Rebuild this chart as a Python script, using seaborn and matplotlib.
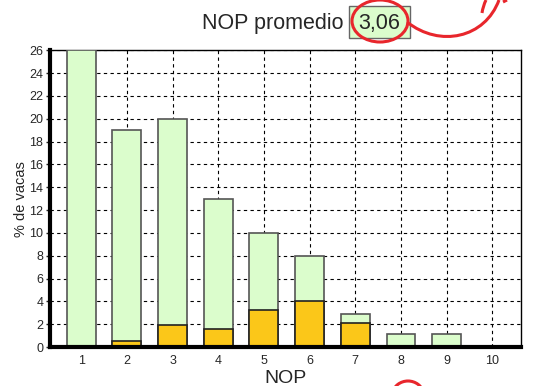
import matplotlib
matplotlib.use("Agg")
import matplotlib.pyplot as plt
import seaborn as sns
import pandas as pd
from matplotlib.patches import Ellipse, Arc, Rectangle, PathPatch
from matplotlib.path import Path

categories = ["1", "2", "3", "4", "5", "6", "7", "8", "9", "10"]
total_pct = [26.0, 19.0, 20.0, 13.0, 10.0, 8.0, 2.9, 1.1, 1.1, 0.0]
orange_pct = [0.0, 0.5, 1.9, 1.6, 3.2, 4.0, 2.1, 0.0, 0.0, 0.0]
y_ticks = list(range(0, 27, 2))
mean_text = "3,06"

sns.set_theme(style="white")
plt.rcParams['font.family'] = ['Liberation Sans', 'DejaVu Sans']

df = pd.DataFrame({"NOP": categories, "total": total_pct, "orange": orange_pct})

fig = plt.figure(figsize=(5.45, 3.86), dpi=100)
ax = fig.add_axes([0.092, 0.101, 0.864, 0.769])

sns.barplot(data=df, x="NOP", y="total", color="#DBFDCC", saturation=1,
            width=0.63, edgecolor="#555555", linewidth=1.2, ax=ax, zorder=3)
sns.barplot(data=df, x="NOP", y="orange", color="#FBC719", saturation=1,
            width=0.63, edgecolor="#222222", linewidth=1.2, ax=ax, zorder=4)

ax.set_xlim(-0.68, 9.63)
ax.set_ylim(0, 26)
ax.set_yticks(y_ticks)
ax.set_yticklabels([str(t) for t in y_ticks], fontsize=9)
ax.tick_params(axis='x', labelsize=9, length=0, pad=6)
ax.tick_params(axis='y', length=3, width=1, direction='out', pad=2, left=True)
ax.grid(True, color="black", linestyle=(0, (3, 3)), linewidth=0.8, zorder=0)
ax.set_axisbelow(True)
for s in ["top", "right"]:
    ax.spines[s].set_color("black")
    ax.spines[s].set_linewidth(1.0)
for s in ["left", "bottom"]:
    ax.spines[s].set_color("black")
    ax.spines[s].set_linewidth(3.0)
    ax.spines[s].set_zorder(6)
ax.set_ylabel("% de vacas", fontsize=10.5, labelpad=1)
ax.set_xlabel("NOP", fontsize=14, labelpad=2)


def px(x, y):
    return (x / 545.0, 1 - y / 386.0)


# title
fig.add_artist(Rectangle(px(349, 38), 61 / 545.0, 32 / 386.0,
                         transform=fig.transFigure, facecolor="#DBFDCC",
                         edgecolor="#666666", linewidth=1))
fig.text(*px(202, 24), "NOP promedio", ha="left", va="center", fontsize=15.5)
fig.text(*px(379, 24), mean_text, ha="center", va="center", fontsize=15.5)

# red hand-drawn annotations
red = "#E8262C"
fig.add_artist(Ellipse(px(380, 21), 56 / 545.0, 42 / 386.0,
                       transform=fig.transFigure, fill=False,
                       edgecolor=red, linewidth=2.2))
verts = [px(407, 22), px(440, 48), px(485, 38), px(499, 0)]
fig.add_artist(PathPatch(Path(verts, [Path.MOVETO, Path.CURVE4, Path.CURVE4, Path.CURVE4]),
                         transform=fig.transFigure, fill=False,
                         edgecolor=red, linewidth=2.2))
verts2 = [px(482, 13), px(483, 6), px(486, 0)]
fig.add_artist(PathPatch(Path(verts2, [Path.MOVETO, Path.CURVE3, Path.CURVE3]),
                         transform=fig.transFigure, fill=False,
                         edgecolor=red, linewidth=2.2))
verts3 = [px(503, 2), px(507, 0)]
fig.add_artist(PathPatch(Path(verts3, [Path.MOVETO, Path.LINETO]),
                         transform=fig.transFigure, fill=False,
                         edgecolor=red, linewidth=2.2))
fig.add_artist(Arc(px(408, 396), 32 / 545.0, 30 / 386.0, transform=fig.transFigure,
                   theta1=15, theta2=165, edgecolor=red, linewidth=2.2))

fig.savefig("out.png", dpi=100)
